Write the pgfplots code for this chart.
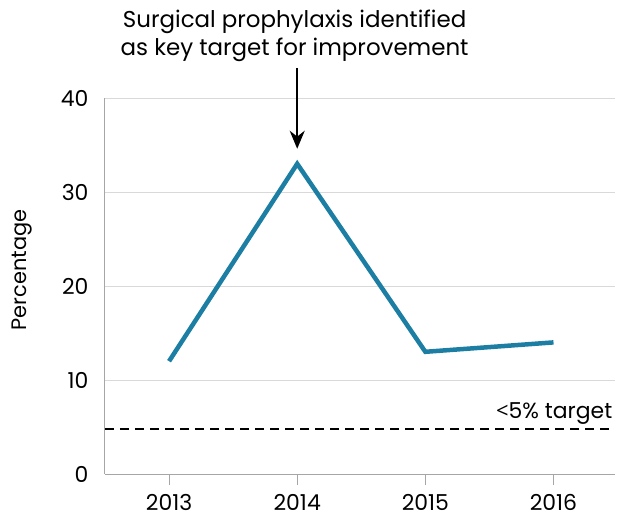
\documentclass[border=0pt]{standalone}
\usepackage{pgfplots}
\pgfplotsset{compat=1.18}
\usetikzlibrary{arrows.meta}
\usepackage{fontspec}
\setmainfont{Poppins}
\newfontfamily\altfont{Open Sans}
\definecolor{linecol}{HTML}{1C7EA3}
\definecolor{gridcol}{HTML}{D9D9D9}
\definecolor{axcol}{HTML}{A6A6A6}
\begin{document}
\begin{tikzpicture}
\begin{axis}[
  scale only axis,
  width=510bp, height=376bp,
  xmin=2012.5, xmax=2016.48,
  ymin=0, ymax=40,
  xtick={2013,2014,2015,2016},
  ytick={0,10,20,30,40},
  xticklabel style={/pgf/number format/1000 sep=},
  /pgf/number format/assume math mode=true,
  axis x line*=bottom,
  axis y line*=left,
  axis line style={axcol, line width=1bp, -},
  ymajorgrids, grid style={gridcol, line width=1bp},
  x tick style={axcol, line width=1bp},
  y tick style={draw=none},
  tick align=outside,
  major tick length=11bp,
  xticklabel style={font=\fontsize{22}{24}\selectfont, anchor=base, inner sep=0pt, outer sep=0pt, yshift=-25bp},
  yticklabel style={font=\fontsize{22}{24}\selectfont, xshift=-2bp},
  ylabel={Percentage},
  ylabel style={font=\fontsize{21}{22}\selectfont, at={(axis description cs:-0.163,0.543)}, anchor=center},
  clip=false,
]
\addplot[linecol, line width=4.5bp, line join=miter] coordinates {(2013,12) (2014,33) (2015,13) (2016,14)};
\addplot[black, line width=2.5bp, dash pattern=on 9bp off 6bp] coordinates {(2012.5,4.8) (2016.48,4.8)};
\node[anchor=base east, font=\fontsize{22}{24}\selectfont, inner sep=0pt] at (axis cs:2016.46,5.9) {{\altfont<}5\% target};
\draw[-{Stealth[length=18bp,width=15bp]}, line width=2bp, black] (axis cs:2014,43.2) -- (axis cs:2014,34.6);
\node[align=center, font=\fontsize{23}{28}\selectfont, inner sep=0pt, anchor=center] at (axis cs:2013.98,46.6) {Surgical prophylaxis identified\\as key target for improvement};
\end{axis}
\pgfresetboundingbox
\useasboundingbox (-105bp,-45bp) rectangle (523bp,474bp);
\end{tikzpicture}
\end{document}
